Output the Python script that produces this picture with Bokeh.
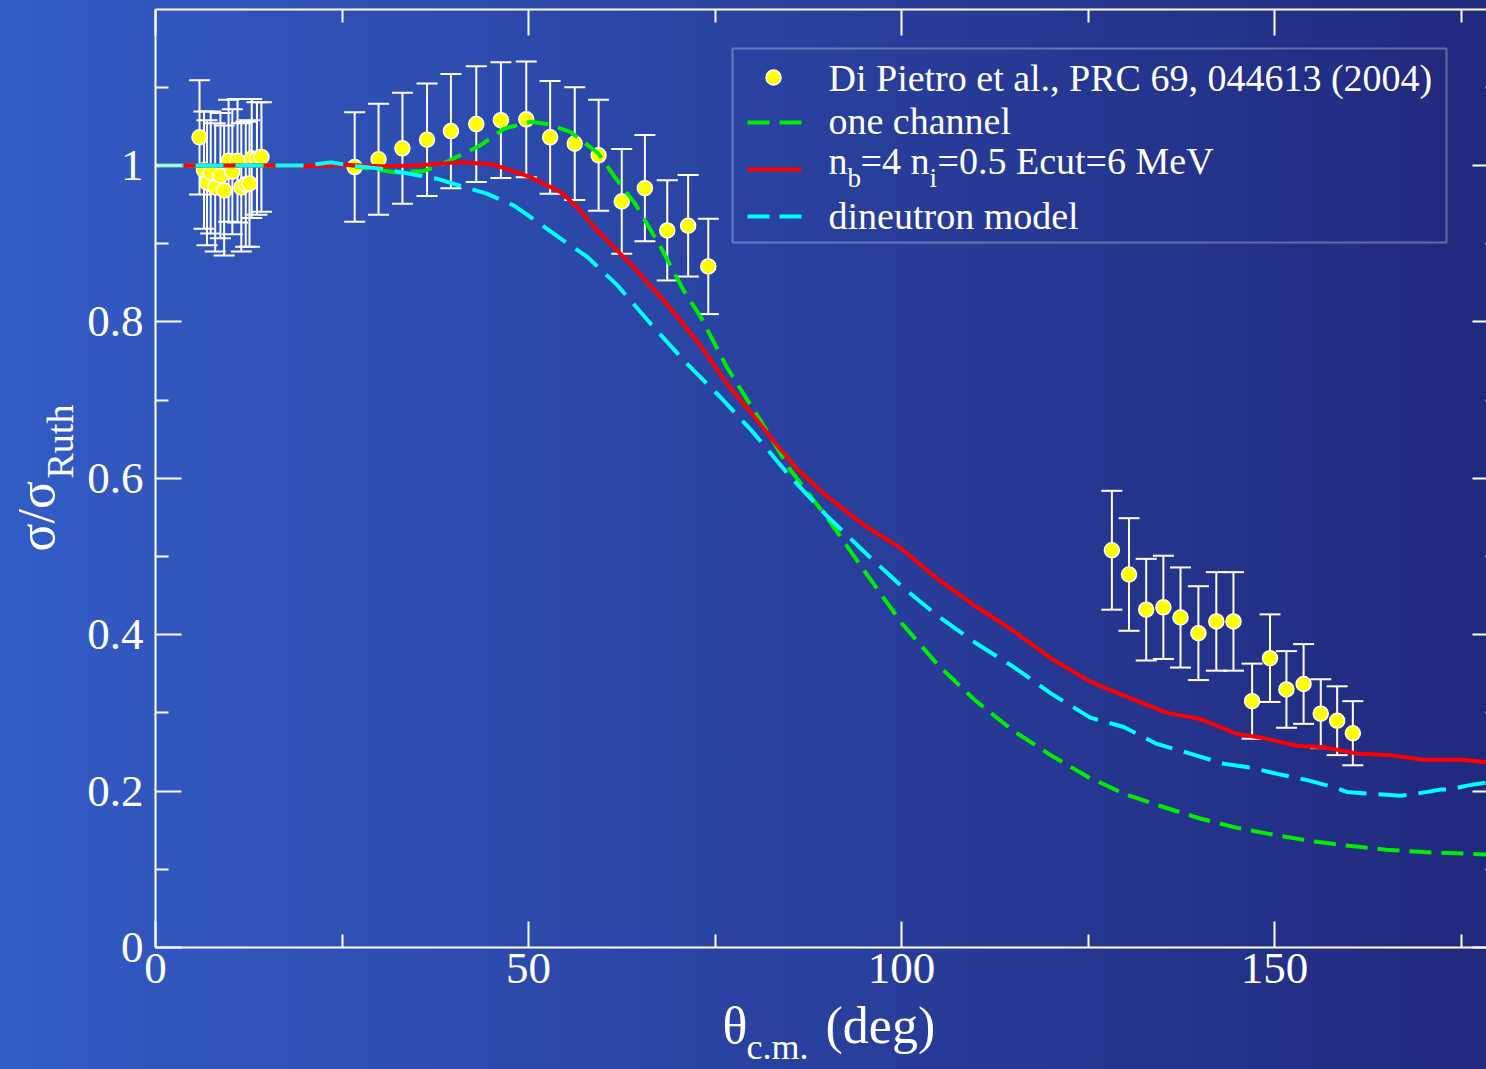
import numpy as np
from bokeh.plotting import figure
from bokeh.models import (FixedTicker, LinearAxis, Label, BoxAnnotation, Range1d,
                          CustomJSTickFormatter)
from bokeh.embed import file_html
from bokeh.resources import INLINE

# ---- measured elastic data: Di Pietro et al., PRC 69, 044613 (2004) ----
theta_data = [5.9, 6.5, 6.9, 7.4, 8.0, 8.7, 9.2, 9.8, 10.3, 11.0, 11.5, 12.1, 12.6, 12.9, 13.6, 14.2,
              26.7, 29.9, 33.1, 36.4, 39.6, 43.0, 46.3, 49.7, 52.9, 56.2, 59.4, 62.5, 65.6, 68.6, 71.4, 74.1,
              128.2, 130.5, 132.8, 135.1, 137.4, 139.8, 142.2, 144.5, 147.0, 149.4, 151.6, 153.9, 156.2, 158.4, 160.5]
ratio_data = [1.036, 0.994, 0.978, 0.991, 0.972, 0.987, 0.968, 1.006, 0.992, 1.006, 0.972, 0.976, 0.977, 1.009, 1.009, 1.011,
              0.998, 1.008, 1.022, 1.033, 1.044, 1.053, 1.058, 1.059, 1.036, 1.028, 1.013, 0.954, 0.971, 0.917, 0.923, 0.871,
              0.508, 0.477, 0.432, 0.435, 0.422, 0.402, 0.417, 0.417, 0.315, 0.370, 0.330, 0.337, 0.299, 0.290, 0.274]
ratio_err = [0.073, 0.075, 0.080, 0.078, 0.082, 0.080, 0.083, 0.078, 0.080, 0.079, 0.082, 0.080, 0.081, 0.076, 0.072, 0.070,
             0.070, 0.071, 0.071, 0.072, 0.073, 0.074, 0.074, 0.074, 0.072, 0.072, 0.071, 0.067, 0.068, 0.064, 0.065, 0.061,
             0.076, 0.072, 0.065, 0.066, 0.064, 0.060, 0.063, 0.063, 0.048, 0.056, 0.049, 0.051, 0.044, 0.044, 0.041]

# ---- one channel calculation ----
theta_one = [0, 5, 10, 15, 20, 23.5, 28, 32.4, 36, 38, 40.4, 43.6, 46.7, 50.3, 52.5, 55.6, 59.3, 61.9, 64.3,
             67.7, 70.8, 73.1, 76.6, 80, 82, 85, 90, 95, 100, 105, 110, 115, 120, 125, 130, 135, 140, 145,
             150, 155, 160, 165, 170, 178.4]
ratio_one = [1.0, 1.0, 1.0, 1.0, 0.999, 1.004, 0.997, 0.991, 0.993, 1.0, 1.011, 1.026, 1.047, 1.056, 1.053, 1.043,
             1.016, 0.981, 0.951, 0.896, 0.840, 0.806, 0.742, 0.690, 0.660, 0.612, 0.550, 0.482, 0.415, 0.360,
             0.315, 0.277, 0.246, 0.218, 0.196, 0.180, 0.165, 0.153, 0.144, 0.136, 0.130, 0.125, 0.122, 0.119]

# ---- CDCC calculation, n_b=4 n_i=0.5 Ecut=6 MeV ----
theta_cdcc = [0, 5, 10, 15, 20, 25, 30, 35, 40.4, 44.9, 48.5, 50.3, 54.3, 56.5, 59.2, 63.5, 67.7, 70, 73,
              76.6, 80, 83, 86, 90, 95, 100, 105, 110, 115, 120, 125.3, 129.8, 135.6, 140.1, 145, 148.5,
              153, 156.6, 161.1, 165.5, 170, 175, 178.4]
ratio_cdcc = [1.0, 1.0, 1.0, 1.0, 0.999, 1.001, 0.999, 1.0, 1.004, 1.002, 0.991, 0.985, 0.966, 0.947, 0.917, 0.876,
              0.832, 0.806, 0.770, 0.721, 0.682, 0.646, 0.612, 0.577, 0.540, 0.510, 0.470, 0.436, 0.405, 0.370,
              0.340, 0.322, 0.300, 0.292, 0.273, 0.268, 0.258, 0.256, 0.248, 0.246, 0.240, 0.240, 0.237]

# ---- dineutron model ----
theta_din = [0, 5, 10, 15, 20, 23.5, 27, 30.2, 35.5, 37.8, 40.9, 44.4, 48, 50.3, 53.8, 57.9, 61.9, 66.8, 71.3,
             75.7, 80, 85, 90, 95, 100, 105, 110, 115, 120, 125.3, 129.8, 134.3, 138.7, 143.2, 146.8, 150.4,
             154.4, 157.9, 159.7, 162.4, 166.9, 168.6, 170.5, 172.3, 173.6, 175.8, 178.4]
ratio_din = [1.0, 1.0, 1.0, 1.0, 1.0, 1.004, 0.999, 0.996, 0.987, 0.983, 0.974, 0.964, 0.949, 0.934, 0.910, 0.883,
             0.847, 0.793, 0.746, 0.704, 0.660, 0.603, 0.552, 0.506, 0.462, 0.423, 0.389, 0.359, 0.325, 0.294,
             0.282, 0.260, 0.248, 0.235, 0.230, 0.222, 0.214, 0.205, 0.199, 0.197, 0.194, 0.196, 0.199, 0.202,
             0.202, 0.207, 0.211]

legend_labels = ["Di Pietro et al.,  PRC 69, 044613 (2004)", "one channel", "dineutron model"]
x_ticks, x_minor = [0, 50, 100, 150], [25, 75, 125, 175]
y_ticks, y_minor = [0, 0.2, 0.4, 0.6, 0.8, 1.0], [0.1, 0.3, 0.5, 0.7, 0.9, 1.1]
y_tick_text = ["0", "0.2", "0.4", "0.6", "0.8", "1"]

# canvas geometry: the plotting frame fills the whole canvas, and the axes
# are pinned at theta = 0 / 180 and sigma = 0 / 1.2
W, H = 1486, 1069
X0_PX, Y0_PX = 155, 947          # canvas position of the (0, 0) corner
PX_PER_DEG, PX_PER_UNIT = 7.46, 782.0

def xd(px):
    return (px - X0_PX) / PX_PER_DEG

def yd(py):
    return (Y0_PX - py) / PX_PER_UNIT

SERIF = "Liberation Serif"
WHITE = "white"

p = figure(width=W, height=H, x_range=Range1d(xd(0), xd(W)), y_range=Range1d(yd(H), yd(0)),
           output_backend="svg", toolbar_location=None, title=None,
           min_border=0, x_axis_location=None, y_axis_location=None)
p.background_fill_color = None
p.border_fill_color = None
p.outline_line_color = None
p.grid.visible = False
p.styles = {"background": "linear-gradient(90deg, rgb(51,92,198) 0%, rgb(44,74,172) 35%, rgb(33,41,125) 100%)"}

blank = CustomJSTickFormatter(code="return ''")

def make_axis(ticks, minor, loc, bounds, labels=None, tick_in=26, minor_in=13):
    ax = LinearAxis(ticker=FixedTicker(ticks=ticks, minor_ticks=minor),
                    fixed_location=loc, bounds=bounds)
    ax.axis_line_color = WHITE
    ax.axis_line_width = 2
    ax.major_tick_line_color = WHITE
    ax.minor_tick_line_color = WHITE
    ax.major_tick_line_width = 2
    ax.minor_tick_line_width = 2
    ax.major_tick_in = tick_in
    ax.major_tick_out = 0
    ax.minor_tick_in = minor_in
    ax.minor_tick_out = 0
    ax.major_label_text_color = WHITE
    ax.major_label_text_font = SERIF
    ax.major_label_text_font_size = "45px"
    if labels is None:
        ax.formatter = blank
    elif isinstance(labels, dict):
        ax.major_label_overrides = labels
    return ax

bottom = make_axis(x_ticks, x_minor, 0, (0, 180), labels=True)
bottom.major_label_standoff = 6
p.add_layout(bottom, "below")

top = make_axis(x_ticks, x_minor, 1.2, (0, 180))
p.add_layout(top, "above")

left = make_axis(y_ticks, y_minor, 0, (0, 1.2), labels=dict(zip(y_ticks, y_tick_text)))
left.major_label_standoff = 12
p.add_layout(left, "left")

right = make_axis(y_ticks, y_minor, 180, (0, 1.2))
p.add_layout(right, "right")

# error bars and data points
lo = [y - e for y, e in zip(ratio_data, ratio_err)]
hi = [y + e for y, e in zip(ratio_data, ratio_err)]
p.segment(theta_data, lo, theta_data, hi, line_color=WHITE, line_width=2)
p.scatter(theta_data, hi, marker="dash", size=21, line_color=WHITE, line_width=2)
p.scatter(theta_data, lo, marker="dash", size=21, line_color=WHITE, line_width=2)
p.scatter(theta_data, ratio_data, marker="circle", size=15, fill_color="#ffff00",
          line_color=WHITE, line_width=1.5)

# calculations
p.line(theta_one, ratio_one, line_color="#00ee00", line_width=4, line_dash="22 10")
p.line(theta_cdcc, ratio_cdcc, line_color="#ff0000", line_width=4)
p.line(theta_din, ratio_din, line_color="#00ffff", line_width=4, line_dash="28 12")

# legend box with its samples
p.add_layout(BoxAnnotation(left=xd(732), right=xd(1446), top=yd(48), bottom=yd(242),
                           fill_color=None, line_color=WHITE, line_width=2))
p.scatter([xd(773)], [yd(77)], marker="circle", size=15, fill_color="#ffff00",
          line_color=WHITE, line_width=1.5)
p.line([xd(747), xd(801)], [yd(122), yd(122)], line_color="#00ee00", line_width=4, line_dash="22 10")
p.line([xd(747), xd(801)], [yd(169), yd(169)], line_color="#ff0000", line_width=4)
p.line([xd(747), xd(801)], [yd(216), yd(216)], line_color="#00ffff", line_width=4, line_dash="22 10")

BASE_SHIFT = 0.35   # baseline correction, in em

def text(px, py, s, size, angle=0.0):
    if angle:
        px -= BASE_SHIFT * size
    else:
        py -= BASE_SHIFT * size
    p.add_layout(Label(x=xd(px), y=yd(py), text=s, text_color=WHITE, text_font=SERIF,
                       text_font_size=f"{size}px", text_baseline="alphabetic",
                       text_align="left", angle=angle))

LEG = 38
SUB = 27
text(828, 91, legend_labels[0], LEG)
text(828, 134, legend_labels[1], LEG)
text(828, 174, "n", LEG)
text(847, 187, "b", SUB)
text(860, 174, "=4 n", LEG)
text(929, 187, "i", SUB)
text(937, 174, "=0.5 Ecut=6 MeV", LEG)
text(828, 229, legend_labels[2], LEG)

# axis titles
text(722, 1043, "θ", 52)
text(746, 1059, "c.m.", 36)
text(825, 1043, "(deg)", 52)
text(54, 551, "σ/σ", 52, angle=np.pi / 2)
text(73, 478, "Ruth", 38, angle=np.pi / 2)

open("out.html", "w").write(file_html(p, INLINE))
